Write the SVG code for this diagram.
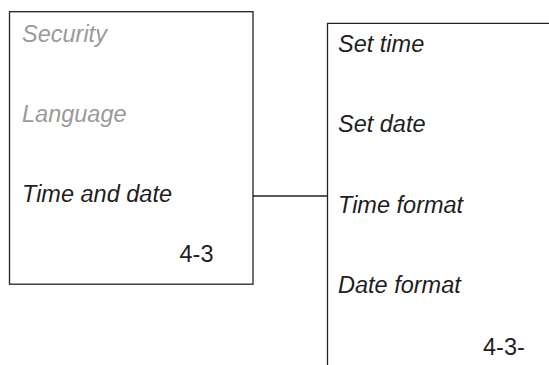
<svg xmlns="http://www.w3.org/2000/svg" width="549" height="365" viewBox="0 0 549 365">
<style>
.box{fill:#fff;stroke:#222;stroke-width:1.3}
.t{font-family:"Liberation Sans",Arial,sans-serif;font-size:23.5px;font-style:italic;fill:#1e1e1e}
.g{fill:#9a9a9a}
.n{font-family:"Liberation Sans",Arial,sans-serif;font-size:23.5px;fill:#1e1e1e}
.c{fill:none;stroke:#222;stroke-width:1.3}
</style>
<rect width="549" height="365" fill="#fff"/>
<g id="connectors">
<line class="c" x1="253" y1="196" x2="327.5" y2="196"/>
</g>
<g id="menu-left">
<rect class="box" x="9.5" y="11.7" width="243.5" height="272.5"/>
<text class="t g" x="22" y="42">Security</text>
<text class="t g" x="22" y="122">Language</text>
<text class="t" x="22" y="202">Time and date</text>
<text class="n" x="179.5" y="262">4-3</text>
</g>
<g id="menu-right">
<path class="c" d="M327.5 366 V23.3 H550"/>
<text class="t" x="338" y="52">Set time</text>
<text class="t" x="338" y="132">Set date</text>
<text class="t" x="338" y="212.5">Time format</text>
<text class="t" x="338" y="293">Date format</text>
<text class="n" x="483" y="355">4-3-</text>
</g>
</svg>
